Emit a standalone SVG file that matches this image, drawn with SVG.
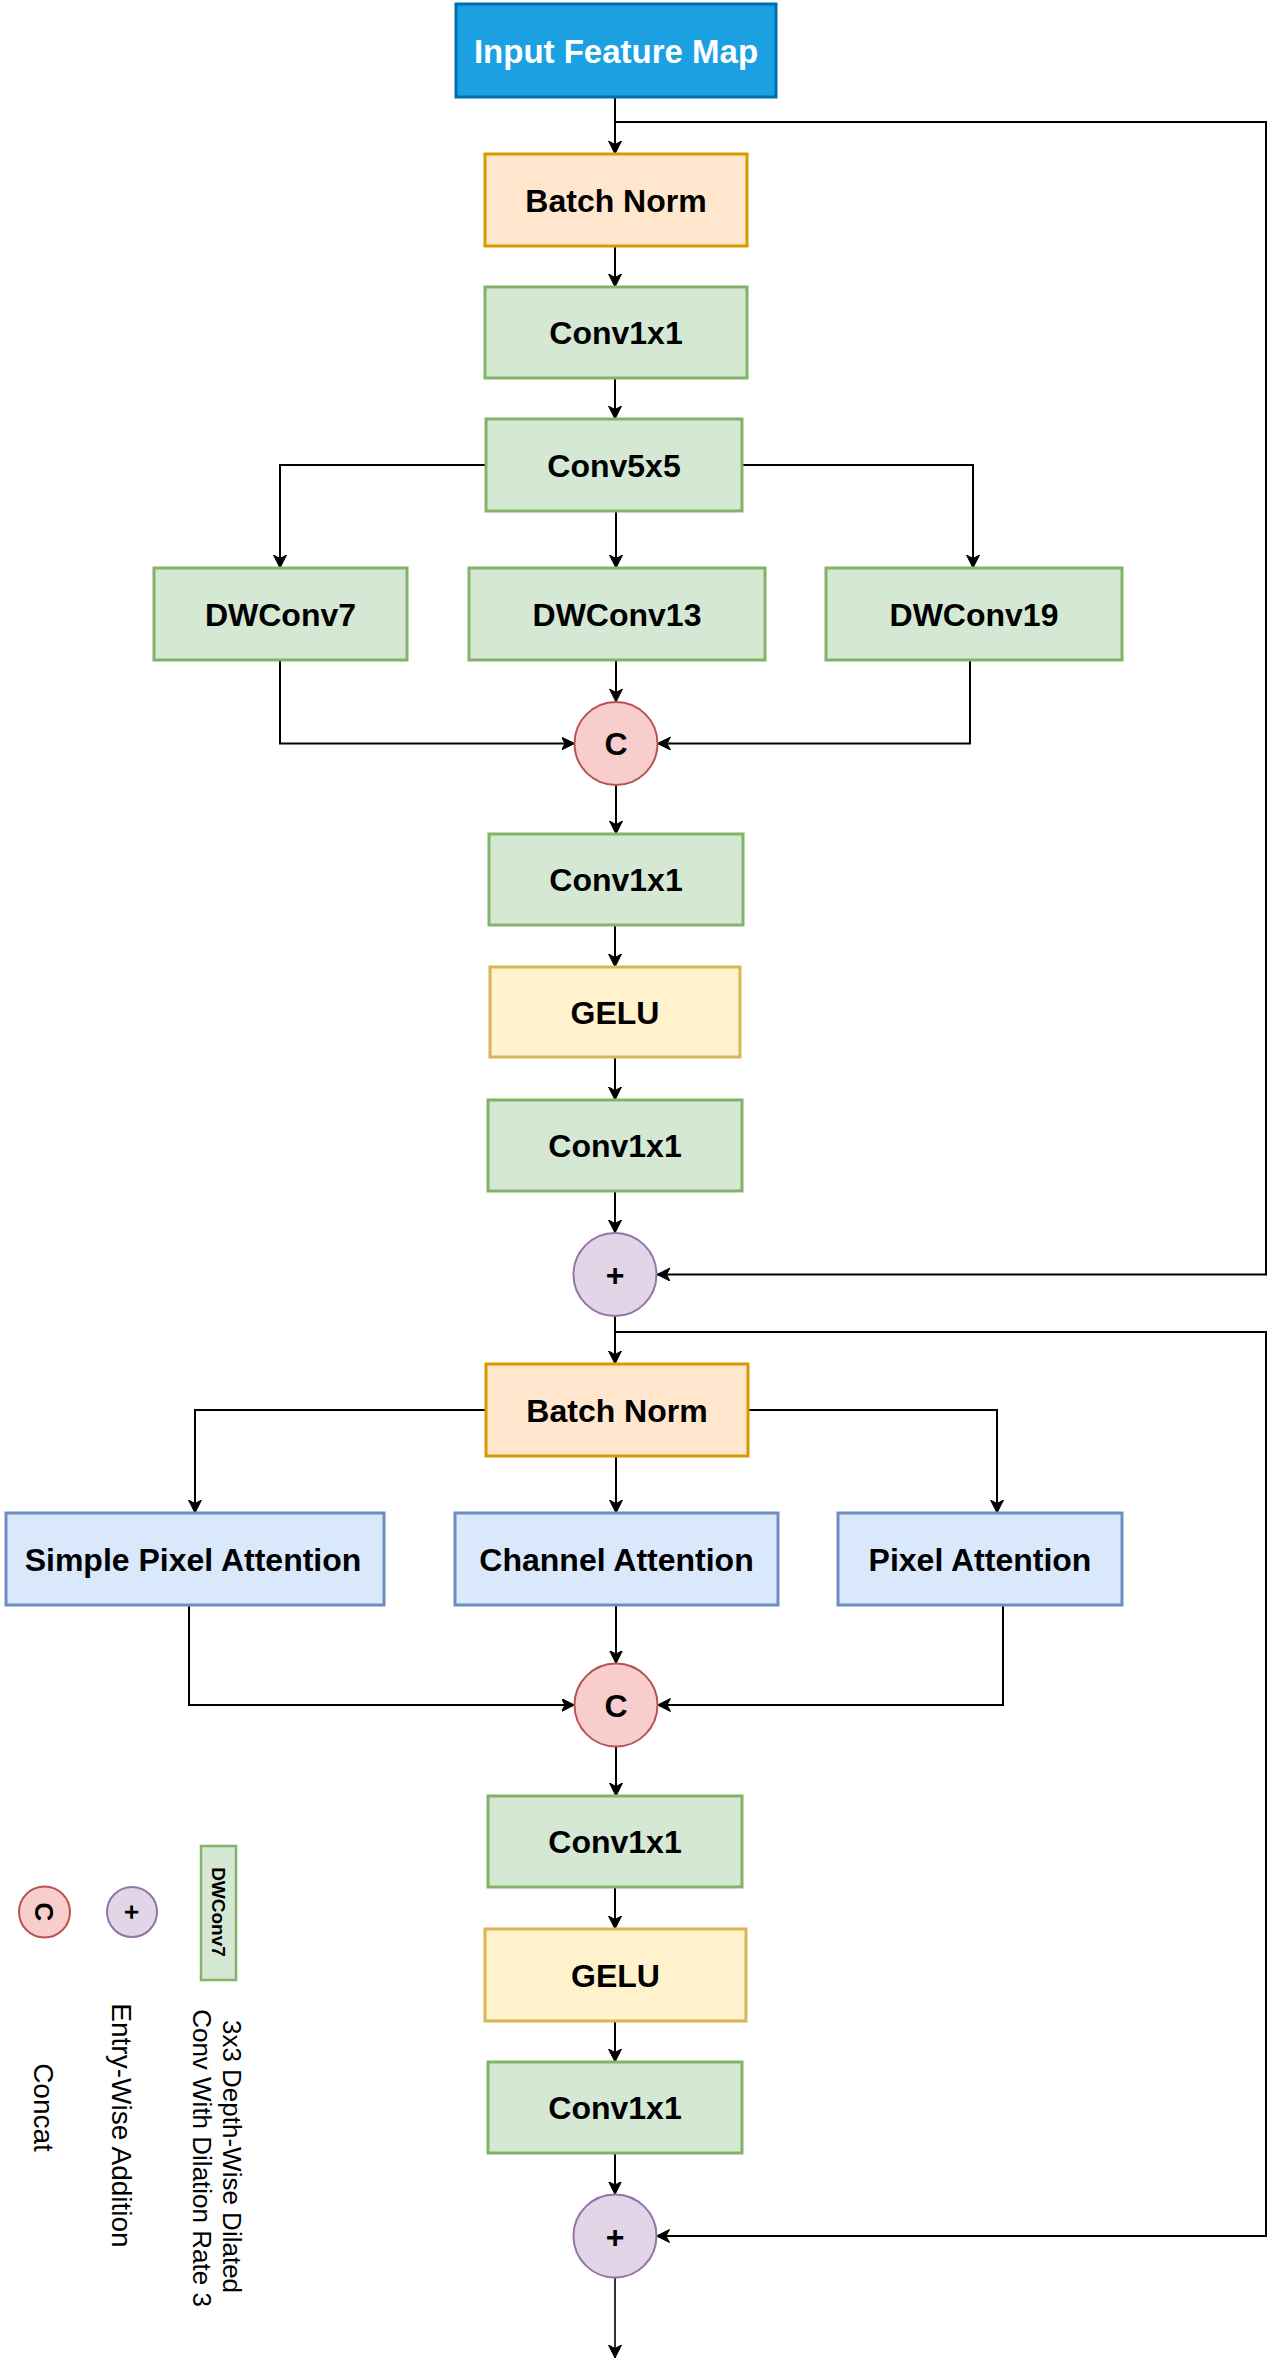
<svg xmlns="http://www.w3.org/2000/svg" width="1270" height="2363" viewBox="0 0 1270 2363">
<style>
  .box { stroke-width: 3; }
  .green { fill: #d5e8d4; stroke: #82b366; }
  .orange { fill: #ffe6cc; stroke: #d79b00; }
  .yellow { fill: #fff2cc; stroke: #d6b656; }
  .blue { fill: #dae8fc; stroke: #6c8ebf; }
  .input { fill: #1ba1e2; stroke: #006eaf; }
  .concat { fill: #f8cecc; stroke: #b85450; stroke-width: 2; }
  .add { fill: #e1d5e7; stroke: #9673a6; stroke-width: 2; }
  .lbl { font-family: "Liberation Sans", Arial, sans-serif; font-weight: bold; font-size: 32px; fill: #000; text-anchor: middle; }
  .white { fill: #ffffff; font-size: 33px; }
  .leg { font-family: "Liberation Sans", Arial, sans-serif; font-size: 27px; fill: #000; text-anchor: middle; }
  .conn { fill: none; stroke: #000; stroke-width: 2; marker-end: url(#arr); }
</style>
<defs>
  <marker id="arr" markerUnits="userSpaceOnUse" markerWidth="14" markerHeight="14" refX="13" refY="6.5" orient="auto">
    <path d="M0,0 L13,6.5 L0,13 L3.5,6.5 Z" fill="#000" stroke="#000" stroke-width="1"/>
  </marker>
</defs>
<rect width="1270" height="2363" fill="#ffffff"/>

<g id="connectors">
  <path class="conn" d="M615,97 L615,154"/>
  <path class="conn" d="M615,122 L1266,122 L1266,1274.5 L657,1274.5"/>
  <path class="conn" d="M615,246 L615,287"/>
  <path class="conn" d="M615,378 L615,419"/>
  <path class="conn" d="M486,465 L280,465 L280,568"/>
  <path class="conn" d="M616,511 L616,568"/>
  <path class="conn" d="M742,465 L973,465 L973,568"/>
  <path class="conn" d="M280,660 L280,743.5 L574.5,743.5"/>
  <path class="conn" d="M616,660 L616,702"/>
  <path class="conn" d="M970,660 L970,743.5 L657.5,743.5"/>
  <path class="conn" d="M616,785 L616,834"/>
  <path class="conn" d="M615,925 L615,967"/>
  <path class="conn" d="M615,1057 L615,1100"/>
  <path class="conn" d="M615,1191 L615,1233"/>
  <path class="conn" d="M615,1316 L615,1364"/>
  <path class="conn" d="M615,1332 L1266,1332 L1266,2236 L656.5,2236"/>
  <path class="conn" d="M486,1410 L195,1410 L195,1513"/>
  <path class="conn" d="M616,1456 L616,1513"/>
  <path class="conn" d="M748,1410 L997,1410 L997,1513"/>
  <path class="conn" d="M189,1605 L189,1705 L574.5,1705"/>
  <path class="conn" d="M616,1605 L616,1663.5"/>
  <path class="conn" d="M1003,1605 L1003,1705 L657.5,1705"/>
  <path class="conn" d="M616,1746.5 L616,1796"/>
  <path class="conn" d="M615,1887 L615,1929"/>
  <path class="conn" d="M615,2021 L615,2062"/>
  <path class="conn" d="M615,2153 L615,2194.5"/>
  <path class="conn" d="M615,2277.5 L615,2358" style="stroke:#333"/>
</g>

<g id="input"><rect class="box input" x="456" y="4" width="320" height="93"/><text class="lbl white" x="616" y="63">Input Feature Map</text></g>
<g id="bn1"><rect class="box orange" x="485" y="154" width="262" height="92"/><text class="lbl" x="616" y="211.5">Batch Norm</text></g>
<g id="conv1"><rect class="box green" x="485" y="287" width="262" height="91"/><text class="lbl" x="616" y="344">Conv1x1</text></g>
<g id="conv5"><rect class="box green" x="486" y="419" width="256" height="92"/><text class="lbl" x="614" y="476.5">Conv5x5</text></g>
<g id="dw7"><rect class="box green" x="154" y="568" width="253" height="92"/><text class="lbl" x="280.5" y="625.5">DWConv7</text></g>
<g id="dw13"><rect class="box green" x="469" y="568" width="296" height="92"/><text class="lbl" x="617" y="625.5">DWConv13</text></g>
<g id="dw19"><rect class="box green" x="826" y="568" width="296" height="92"/><text class="lbl" x="974" y="625.5">DWConv19</text></g>
<g id="concat1"><circle class="concat" cx="616" cy="743.5" r="41.5"/><text class="lbl" x="616" y="755">C</text></g>
<g id="conv2"><rect class="box green" x="489" y="834" width="254" height="91"/><text class="lbl" x="616" y="891">Conv1x1</text></g>
<g id="gelu1"><rect class="box yellow" x="490" y="967" width="250" height="90"/><text class="lbl" x="615" y="1023.5">GELU</text></g>
<g id="conv3"><rect class="box green" x="488" y="1100" width="254" height="91"/><text class="lbl" x="615" y="1157">Conv1x1</text></g>
<g id="add1"><circle class="add" cx="615" cy="1274.5" r="41.5"/><text class="lbl" x="615" y="1286">+</text></g>
<g id="bn2"><rect class="box orange" x="486" y="1364" width="262" height="92"/><text class="lbl" x="617" y="1421.5">Batch Norm</text></g>
<g id="spa"><rect class="box blue" x="6" y="1513" width="378" height="92"/><text class="lbl" x="193" y="1570.5">Simple Pixel Attention</text></g>
<g id="ca"><rect class="box blue" x="455" y="1513" width="323" height="92"/><text class="lbl" x="616.5" y="1570.5">Channel Attention</text></g>
<g id="pa"><rect class="box blue" x="838" y="1513" width="284" height="92"/><text class="lbl" x="980" y="1570.5">Pixel Attention</text></g>
<g id="concat2"><circle class="concat" cx="616" cy="1705" r="41.5"/><text class="lbl" x="616" y="1716.5">C</text></g>
<g id="conv4"><rect class="box green" x="488" y="1796" width="254" height="91"/><text class="lbl" x="615" y="1853">Conv1x1</text></g>
<g id="gelu2"><rect class="box yellow" x="485" y="1929" width="261" height="92"/><text class="lbl" x="615.5" y="1986.5">GELU</text></g>
<g id="conv5b"><rect class="box green" x="488" y="2062" width="254" height="91"/><text class="lbl" x="615" y="2119">Conv1x1</text></g>
<g id="add2"><circle class="add" cx="615" cy="2236" r="41.5"/><text class="lbl" x="615" y="2247.5">+</text></g>

<g id="legend">
  <g id="leg-concat">
    <circle class="concat" cx="44.5" cy="1912" r="25.5"/>
    <text class="lbl" style="font-size:26px" transform="translate(35,1912) rotate(90)">C</text>
    <text class="leg" style="font-size:28px" transform="translate(34,2107.5) rotate(90)">Concat</text>
  </g>
  <g id="leg-add">
    <circle class="add" cx="132" cy="1912" r="25"/>
    <text class="lbl" style="font-size:26px" transform="translate(123,1912) rotate(90)">+</text>
    <text class="leg" style="font-size:28px" transform="translate(112,2125.5) rotate(90)">Entry-Wise Addition</text>
  </g>
  <g id="leg-dw">
    <rect class="green" style="stroke-width:2.5" x="201" y="1846" width="35" height="134"/>
    <text class="lbl" style="font-size:19px" transform="translate(212,1912) rotate(90)">DWConv7</text>
    <text class="leg" style="font-size:26px" transform="translate(223,2156.5) rotate(90)">3x3 Depth-Wise Dilated</text>
    <text class="leg" style="font-size:26px" transform="translate(192.5,2158) rotate(90)">Conv With Dilation Rate 3</text>
  </g>
</g>
</svg>
